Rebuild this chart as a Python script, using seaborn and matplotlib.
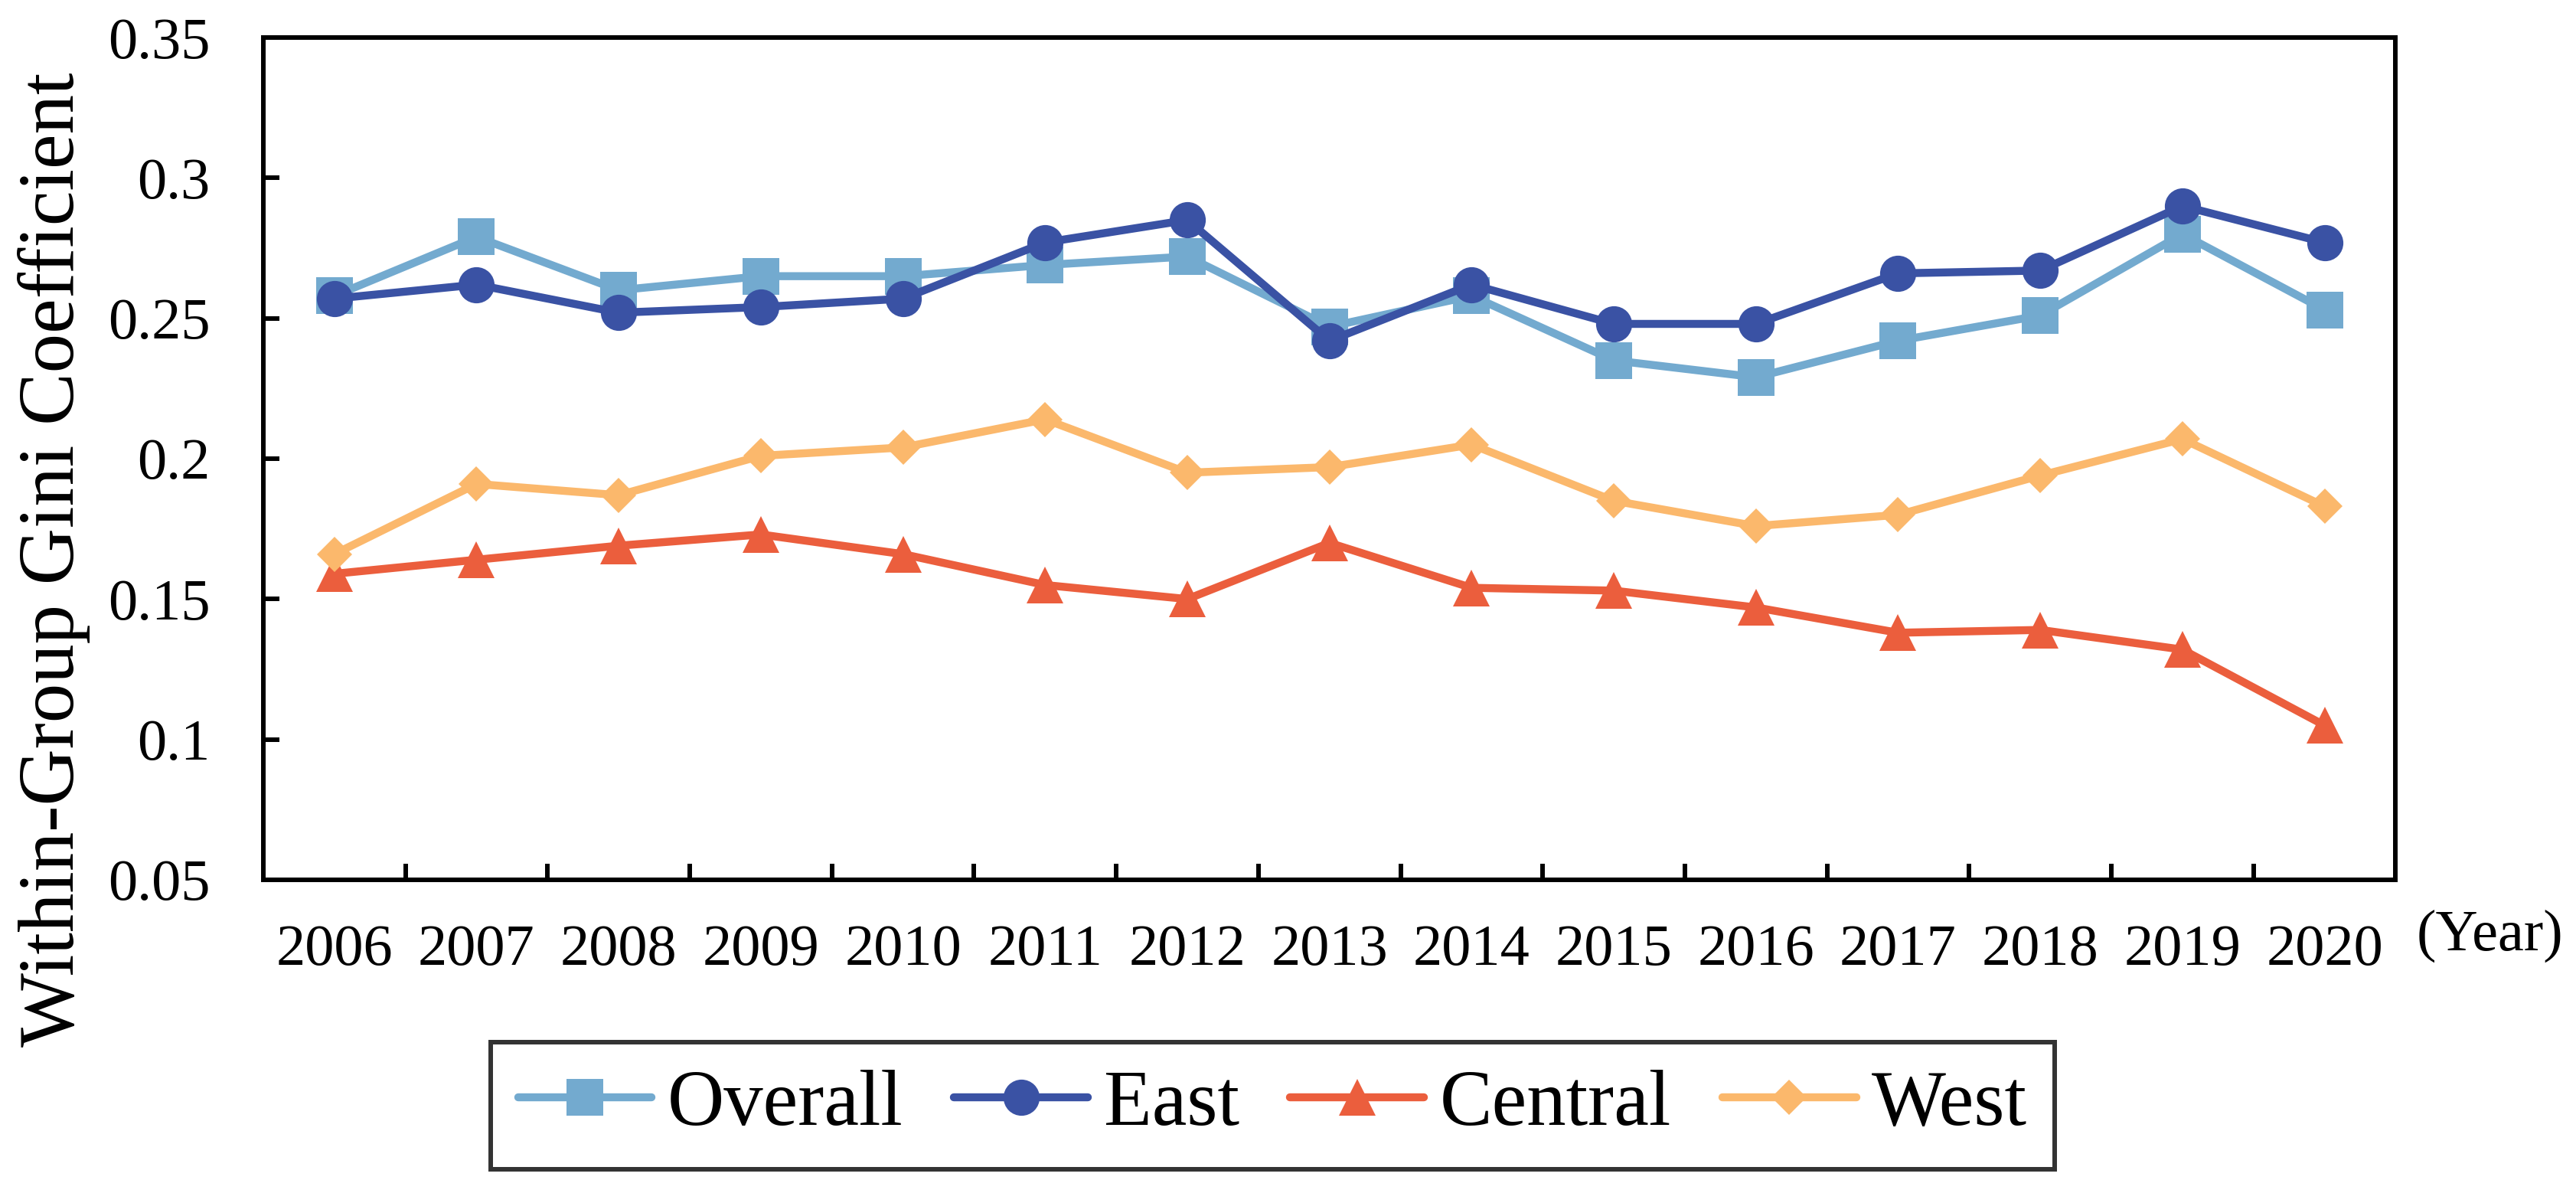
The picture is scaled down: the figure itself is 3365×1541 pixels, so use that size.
import matplotlib
matplotlib.use("Agg")
import matplotlib.pyplot as plt
import seaborn as sns
import pandas as pd
import numpy as np

years = ["2006", "2007", "2008", "2009", "2010", "2011", "2012", "2013",
         "2014", "2015", "2016", "2017", "2018", "2019", "2020"]
overall = [0.258, 0.279, 0.260, 0.265, 0.265, 0.269, 0.272, 0.247,
           0.258, 0.235, 0.229, 0.242, 0.251, 0.280, 0.253]
east = [0.257, 0.262, 0.252, 0.254, 0.257, 0.277, 0.285, 0.242,
        0.262, 0.248, 0.248, 0.266, 0.267, 0.290, 0.277]
central = [0.159, 0.164, 0.169, 0.173, 0.166, 0.155, 0.150, 0.170,
           0.154, 0.153, 0.147, 0.138, 0.139, 0.132, 0.105]
west = [0.166, 0.191, 0.187, 0.201, 0.204, 0.214, 0.195, 0.197,
        0.205, 0.185, 0.176, 0.180, 0.194, 0.207, 0.183]
series_names = ["Overall", "East", "Central", "West"]
colors = ["#73AACF", "#3A52A4", "#EB5E3D", "#FBB86C"]
markers = ["s", "o", "^", "D"]
msizes = [34, 34, 35, 23]
y_ticks = [0.05, 0.1, 0.15, 0.2, 0.25, 0.3, 0.35]
y_ticklabels = ["0.05", "0.1", "0.15", "0.2", "0.25", "0.3", "0.35"]

sns.set_theme(style="white")
plt.rcParams['font.family'] = ['Liberation Serif', 'DejaVu Serif']

fig = plt.figure(figsize=(33.65, 15.41), dpi=100)
ax = fig.add_axes([0.1022, 0.2544, 0.8278, 0.7138])

idx = np.arange(len(years))
data_all = [overall, east, central, west]
for name, vals, c, m, ms in zip(series_names, data_all, colors, markers, msizes):
    df = pd.DataFrame({"x": idx, "y": vals})
    sns.lineplot(data=df, x="x", y="y", ax=ax, color=c, marker=m,
                 markersize=ms, markeredgewidth=0, linewidth=7.5, label=name,
                 legend=False)
for ln in ax.lines:
    ln.set_linewidth(7.5)
    ln.set_solid_joinstyle("miter")

ax.set_xlim(-0.5, len(years) - 0.5)
ax.set_ylim(0.05, 0.35)
ax.set_xticks(idx)
ax.set_xticklabels(years, fontsize=55)
ax.set_xticks(np.arange(0.5, len(years) - 1, 1.0), minor=True)
ax.tick_params(axis="x", which="major", length=0, pad=42)
ax.tick_params(axis="x", which="minor", direction="in", length=15, width=4.3,
               color="black", bottom=True)
ax.set_yticks(y_ticks)
ax.set_yticklabels(y_ticklabels, fontsize=55)
ax.tick_params(axis="y", which="major", direction="in", length=15, width=4.3,
               color="black", left=True, pad=50)
for lab in ax.get_xticklabels() + ax.get_yticklabels():
    lab.set_color("black")
for s in ax.spines.values():
    s.set_linewidth(4.3)
    s.set_color("black")
ax.set_xlabel("")
ax.set_ylabel("")

fig.text(0.021, 0.526, "Within-Group Gini Coefficient", rotation=90,
         fontsize=74, ha="center", va="center", color="black")
fig.text(0.938, 0.207, "(Year)", fontsize=55, ha="left", va="center",
         color="black")

handles, labels = ax.get_legend_handles_labels()
leg = fig.legend(handles, labels, loc="center", bbox_to_anchor=(0.494, 0.063),
                 ncol=4, fontsize=74, frameon=True, fancybox=False,
                 handlelength=1.7, handletextpad=0.2, columnspacing=0.65,
                 borderpad=0.35, edgecolor="black")
leg.get_frame().set_linewidth(4.3)
for t in leg.get_texts():
    t.set_color("black")

fig.savefig("out.png", dpi=100)
